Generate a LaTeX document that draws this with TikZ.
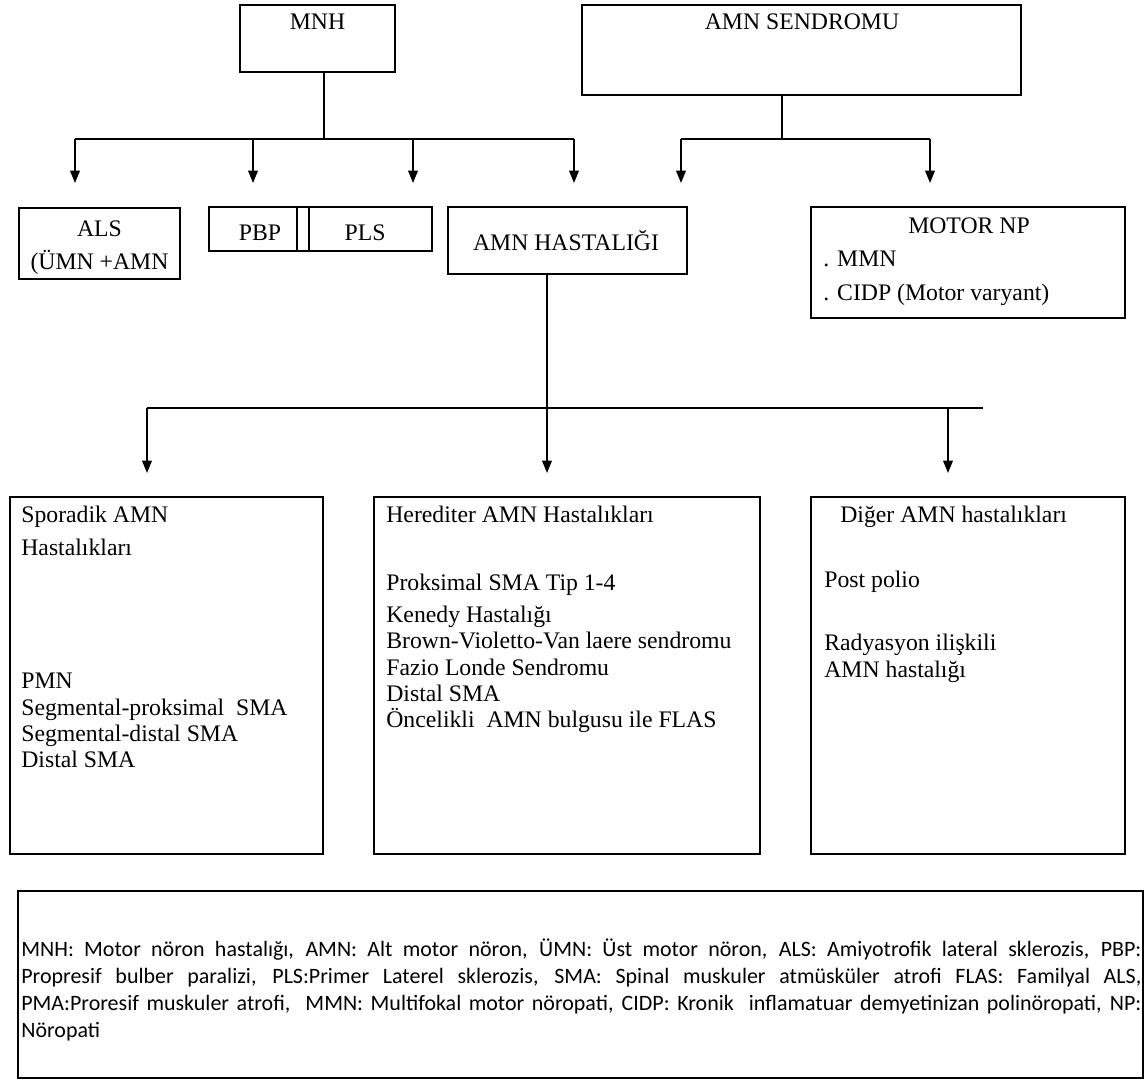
\documentclass[tikz,border=0pt]{standalone}
\usepackage{fontspec}
\setmainfont{Liberation Serif}
\newfontfamily\legendfont{Carlito}
\usetikzlibrary{arrows.meta,positioning}

\begin{document}
\begin{tikzpicture}
[boxDecorate/.style={draw,line width=0.9pt,inner sep=0pt},%
  lineDecorate/.style={-,line width=0.9pt},%
  arrowDecorate/.style={-{Triangle[width=5.5pt,length=7pt]},line width=0.9pt},%
  textDecorate/.style={inner sep=0pt,font=\fontsize{13.5}{15}\selectfont},%
  legendDecorate/.style={inner sep=0pt,anchor=base west,font=\legendfont\fontsize{12.5}{15}\selectfont}]
\useasboundingbox (0,0) rectangle (22.9,-21.68);
%% boxes
\foreach \nodename/\x/\y/\w/\h in {mnh/6.35/-0.77/3.10/1.34, sendromu/16.03/-1.00/8.78/1.80,
  als/1.99/-4.87/3.22/1.42, pbp/5.06/-4.58/1.76/0.88, joint/6.06/-4.58/0.24/0.88,
  pls/7.41/-4.58/2.46/0.88, hastaligi/11.35/-4.81/4.78/1.34, motornp/19.36/-5.25/6.28/2.22,
  sporadik/3.33/-13.51/6.26/7.14, herediter/11.34/-13.51/7.72/7.14, diger/19.36/-13.51/6.28/7.14,
  legend/11.61/-19.69/22.50/3.74}
{
  \node (\nodename) at (\x,\y) [boxDecorate,minimum width=\w cm,minimum height=\h cm] {};
}
%% texts in the boxes
\node (mnhtext) at (6.35,-0.60) [textDecorate,anchor=base] {MNH};
\node (sendromutext) at (16.04,-0.60) [textDecorate,anchor=base] {AMN SENDROMU};
\node (alstext) at (1.99,-4.40) [textDecorate,anchor=north,align=center] {ALS\\[4pt](ÜMN +AMN};
\node (pbptext) at (5.20,-4.80) [textDecorate,anchor=base] {PBP};
\node (plstext) at (7.30,-4.80) [textDecorate,anchor=base] {PLS};
\node (hastaligitext) at (11.32,-5.00) [textDecorate,anchor=base] {AMN HASTALIĞI};
\node (motornptext) at (19.38,-4.66) [textDecorate,anchor=base] {MOTOR NP};
\node (motornplist) at (16.46,-5.02) [textDecorate,anchor=north west,align=left] {. MMN\\[4pt]. CIDP (Motor varyant)};
\node (sporadiktext) at (0.42,-10.12) [textDecorate,anchor=north west,align=left] {Sporadik AMN\\[3.5pt]Hastalıkları};
\node (sporadiklist) at (0.42,-13.46) [textDecorate,anchor=north west,align=left]
  {PMN\\Segmental-proksimal\ \ SMA\\Segmental-distal SMA\\Distal SMA};
\node (hereditertext) at (7.72,-10.44) [textDecorate,anchor=base west] {Herediter AMN Hastalıkları};
\node (hereditlist) at (7.72,-11.48) [textDecorate,anchor=north west,align=left]
  {Proksimal SMA Tip 1-4\\[3pt]Kenedy Hastalığı\\Brown-Violetto-Van laere sendromu\\Fazio Londe Sendromu\\Distal SMA\\Öncelikli\ \ AMN bulgusu ile FLAS};
\node (digertext) at (16.80,-10.44) [textDecorate,anchor=base west] {Diğer AMN hastalıkları};
\node (postpolio) at (16.48,-11.74) [textDecorate,anchor=base west] {Post polio};
\node (radyasyon) at (16.48,-12.68) [textDecorate,anchor=north west,align=left] {Radyasyon ilişkili\\AMN hastalığı};
%% legend
\foreach \legendline [count=\i] in {{MNH: Motor nöron hastalığı, AMN: Alt motor nöron, ÜMN: Üst motor nöron, ALS: Amiyotrofik lateral sklerozis, PBP:},
  {Propresif bulber paralizi, PLS:Primer Laterel sklerozis, SMA: Spinal muskuler atmüsküler atrofi FLAS: Familyal ALS,},
  {PMA:Proresif muskuler atrofi,\ \ MMN: Multifokal motor nöropati, CIDP: Kronik\ \ inflamatuar demyetinizan polinöropati, NP:}}
{
  \node (legend\i) at (0.42,{-19.12-0.54*(\i-1)}) [legendDecorate] {\makebox[22.40cm][s]{\legendline}};
}
\node (legend4) at (0.42,-20.74) [legendDecorate] {Nöropati};
%% connector points
\coordinate (mnhbus) at (6.48,-2.78);
\coordinate (sendromubus) at (15.64,-2.78);
\coordinate (hastaligibus) at (10.94,-8.16);
\coordinate (busend) at (19.66,-8.16);
\foreach \tipname/\x/\y in {alsin/1.50/-3.66, pbpin/5.06/-3.66, plsin/8.26/-3.66, mnhtoamn/11.48/-3.66,
  sendromutoamn/13.62/-3.66, motornpin/18.60/-3.66, sporadikin/2.94/-9.46, herediterin/10.94/-9.46, digerin/18.96/-9.46}
{
  \coordinate (\tipname) at (\x,\y);
}
%% edges
\draw[lineDecorate] (mnhbus |- mnh.south) -- (mnhbus);
\draw[lineDecorate] (sendromubus |- sendromu.south) -- (sendromubus);
\draw[lineDecorate] (alsin |- mnhbus) -- (mnhtoamn |- mnhbus);
\draw[lineDecorate] (sendromutoamn |- sendromubus) -- (motornpin |- sendromubus);
\draw[lineDecorate] (sporadikin |- hastaligibus) -- (busend);
\draw[arrowDecorate] (hastaligibus |- hastaligi.south) -- (herediterin);
\foreach \tip/\bus in {alsin/mnhbus, pbpin/mnhbus, plsin/mnhbus, mnhtoamn/mnhbus,
  sendromutoamn/sendromubus, motornpin/sendromubus, sporadikin/hastaligibus, digerin/hastaligibus}
{
  \draw[arrowDecorate] (\tip |- \bus) -- (\tip);
}
\end{tikzpicture}
\end{document}
